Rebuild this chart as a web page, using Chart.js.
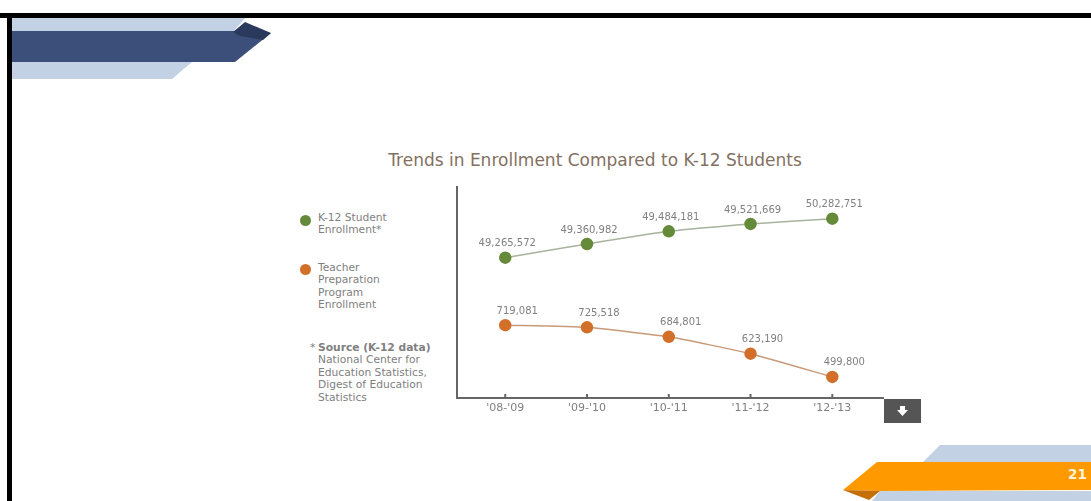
<!DOCTYPE html>
<html>
<head>
<meta charset="utf-8">
<script src="https://cdn.jsdelivr.net/npm/chart.js@4"></script>
<style>
    html, body { margin: 0; padding: 0; background: #fff; }
    #slide { position: relative; width: 1091px; height: 501px; overflow: hidden; background: #fff; font-family: "DejaVu Sans", sans-serif; filter: blur(0.7px); }
    #slide > * { position: absolute; }
    #slide canvas { left: 0; top: 0; }
    .shape { left: 0; top: 0; width: 1091px; height: 501px; }
    .frame { background: #000; }
    .title { left: 295px; width: 600px; top: 151px; text-align: center; font-size: 17px; line-height: 18px; color: #84705f; }
    .note { font-size: 10.7px; line-height: 12.4px; color: #808080; white-space: nowrap; }
    .dot { width: 11px; height: 11px; border-radius: 50%; }
    .page { left: 1068px; top: 466px; font-size: 13.5px; font-weight: bold; color: #fff3d8; }
    .button { left: 884px; top: 399px; width: 37px; height: 24px; background: #555; }
</style>
</head>
<body>
<div id="slide">
    <div class="shape" style="background:#c3d1e5;clip-path:polygon(12px 17px,246px 17px,233px 32px,12px 32px)"></div>
    <div class="shape" style="background:#c3d1e5;clip-path:polygon(12px 62px,192px 62px,172px 79px,12px 79px)"></div>
    <div class="shape" style="background:#3b4f7a;clip-path:polygon(12px 31px,233px 31px,271px 33px,235px 62px,12px 62px)"></div>
    <div class="shape" style="background:#2a3a5c;clip-path:polygon(233px 32px,245px 22px,271px 33px,263px 40px,240px 36px)"></div>
    <div class="shape" style="background:#c3d1e5;clip-path:polygon(940px 445px,1091px 445px,1091px 462px,923px 462px)"></div>
    <div class="shape" style="background:#c3d1e5;clip-path:polygon(880px 491px,1091px 491px,1091px 501px,872px 501px)"></div>
    <div class="shape" style="background:#ff9900;clip-path:polygon(877px 462px,1091px 462px,1091px 490px,880px 491px,843px 490px)"></div>
    <div class="shape" style="background:#c46f08;clip-path:polygon(843px 490px,880px 491px,869px 500px)"></div>
    <div class="frame" style="left:0;top:13px;width:1091px;height:5px"></div>
    <div class="frame" style="left:7px;top:13px;width:5px;height:488px"></div>
    <div class="page">21</div>

    <div class="title">Trends in Enrollment Compared to K-12 Students</div>

    <div class="dot" style="left:300px;top:215px;background:#648a3a"></div>
    <div class="note" style="left:318px;top:212px">K-12 Student<br>Enrollment*</div>
    <div class="dot" style="left:300px;top:264px;background:#d2702a"></div>
    <div class="note" style="left:318px;top:262px">Teacher<br>Preparation<br>Program<br>Enrollment</div>
    <div class="note" style="left:310px;top:342px">*</div>
    <div class="note" style="left:318px;top:342px"><b>Source (K-12 data)</b><br>National Center for<br>Education Statistics,<br>Digest of Education<br>Statistics</div>

    <canvas id="trendChart" width="1091" height="501"></canvas>

    <div class="button"></div>
    <div class="shape" style="background:#fff;clip-path:polygon(900px 406px,905px 406px,905px 410px,908px 410px,902.5px 416px,897px 410px,900px 410px)"></div>
</div>

<script>
const schoolYears = ["'08-'09", "'09-'10", "'10-'11", "'11-'12", "'12-'13"];

// The source graphic is not drawn to scale, so heights are read off its axis
// (0 = x axis, 100 = top of y axis) and the printed figures are kept as labels
const k12Levels = [66.5, 73, 79, 82.5, 85];
const teacherLevels = [34.5, 33.5, 29, 21, 10];
const k12Labels = ['49,265,572', '49,360,982', '49,484,181', '49,521,669', '50,282,751'];
const teacherLabels = ['719,081', '725,518', '684,801', '623,190', '499,800'];

function toPoints(levels) {
    return levels.map((level, index) => ({ x: index, y: level }));
}

// Printed figures above each point and the short ticks inside the x axis
const annotations = {
    id: 'annotations',
    afterDatasetsDraw(chart) {
        const ctx = chart.ctx;
        const xScale = chart.scales.x;
        ctx.save();
        ctx.strokeStyle = '#666';
        ctx.lineWidth = 2;
        schoolYears.forEach((year, index) => {
            const x = xScale.getPixelForValue(index);
            ctx.beginPath();
            ctx.moveTo(x, xScale.top - 4);
            ctx.lineTo(x, xScale.top);
            ctx.stroke();
        });
        ctx.font = '10px "DejaVu Sans", sans-serif';
        ctx.fillStyle = '#808080';
        ctx.textAlign = 'center';
        ctx.textBaseline = 'middle';
        chart.data.datasets.forEach((dataset, datasetIndex) => {
            chart.getDatasetMeta(datasetIndex).data.forEach((point, index) => {
                ctx.fillText(dataset.printed[index], point.x + dataset.labelShift, point.y - 14);
            });
        });
        ctx.restore();
    }
};

new Chart(document.getElementById('trendChart'), {
    type: 'line',
    plugins: [annotations],
    data: {
        datasets: [{
            label: 'K-12 Student Enrollment',
            data: toPoints(k12Levels),
            printed: k12Labels,
            labelShift: 2,
            borderColor: '#a9b39c',
            backgroundColor: '#648a3a',
            pointBorderColor: '#648a3a',
            borderWidth: 1.5,
            pointRadius: 5.5,
            tension: 0.15
        }, {
            label: 'Teacher Preparation Program Enrollment',
            data: toPoints(teacherLevels),
            printed: teacherLabels,
            labelShift: 12,
            borderColor: '#c89a78',
            backgroundColor: '#d2702a',
            pointBorderColor: '#d2702a',
            borderWidth: 1.5,
            pointRadius: 5.5,
            tension: 0.15
        }]
    },
    options: {
        responsive: false,
        animation: false,
        layout: { padding: { top: 187, right: 208 } },
        plugins: { legend: { display: false }, tooltip: { enabled: false } },
        scales: {
            x: {
                type: 'linear',
                min: -0.59,
                max: 4.62,
                afterFit: scale => { scale.height = 103; },
                afterBuildTicks: scale => { scale.ticks = schoolYears.map((year, index) => ({ value: index })); },
                grid: { display: false, drawTicks: false },
                border: { color: '#666', width: 2 },
                ticks: {
                    autoSkip: false,
                    maxRotation: 0,
                    padding: 4,
                    color: '#808080',
                    font: { family: '"DejaVu Sans", sans-serif', size: 11 },
                    callback: value => schoolYears[value]
                }
            },
            y: {
                min: 0,
                max: 100,
                afterFit: scale => { scale.width = 457; },
                grid: { display: false },
                border: { color: '#666', width: 2 },
                ticks: { display: false }
            }
        }
    }
});
</script>
</body>
</html>
